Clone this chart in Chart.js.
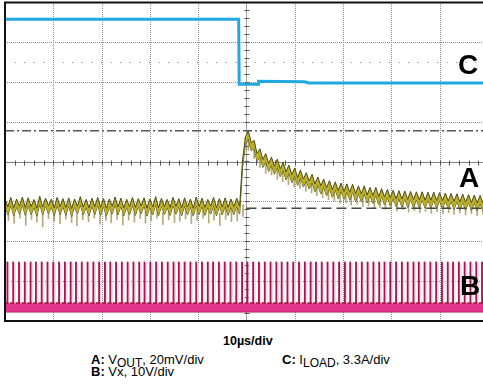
<!DOCTYPE html>
<html>
<head>
<meta charset="utf-8">
<script src="https://cdn.jsdelivr.net/npm/chart.js@4.4.1/dist/chart.umd.min.js"></script>
<style>
  body { margin: 0; background: #fff; font-family: "Liberation Sans", Arial, sans-serif; }
  #wrap { position: relative; width: 483px; height: 392px; overflow: hidden; }
  canvas { position: absolute; left: 0; top: 0; }
  .tag { position: absolute; font-weight: bold; font-size: 28px; line-height: 28px; color: #000; }
  .cap { position: absolute; font-size: 13px; line-height: 15px; color: #000; white-space: nowrap; }
  .cap b { font-weight: bold; }
  .cap sub { font-size: 12px; vertical-align: -3px; line-height: 0; }
</style>
</head>
<body>
<div id="wrap">
  <canvas id="scope" width="483" height="324"></canvas>
  <div class="tag" style="left:458px; top:51px">C</div>
  <div class="tag" style="left:459px; top:164px">A</div>
  <div class="tag" style="left:460px; top:272px">B</div>
  <div class="cap" style="left:223px; top:334px; font-size:12.5px"><b>10µs/div</b></div>
  <div class="cap" style="left:91px; top:352px"><b>A:</b> V<sub>OUT</sub>, 20mV/div</div>
  <div class="cap" style="left:282px; top:352px"><b>C:</b> I<sub>LOAD</sub>, 3.3A/div</div>
  <div class="cap" style="left:91px; top:364px"><b>B:</b> Vx, 10V/div</div>
</div>
<script>
// screen is 10 x 8 divisions, time in µs (10µs/div), levels in divisions from the bottom
const xDivs = [10, 20, 30, 40, 50, 60, 70, 80, 90];
const yDivs = [1, 2, 3, 4, 5, 6, 7];

// trace C: load current step
const cTimes = [0, 48.4, 48.5, 52.4, 52.5, 62, 63, 99];
const cLevels = [7.57, 7.57, 5.94, 5.94, 6.01, 6.0, 5.97, 5.97];

// trace A: output voltage, sampled every half switching cycle
const aTimes = [
  0, 0.6, 1.2, 1.8, 2.4, 3, 3.6, 4.2, 4.8, 5.4,
  6, 6.6, 7.2, 7.8, 8.4, 9, 9.6, 10.2, 10.8, 11.4,
  12, 12.6, 13.2, 13.8, 14.4, 15, 15.6, 16.2, 16.8, 17.4,
  18, 18.6, 19.2, 19.8, 20.4, 21, 21.6, 22.2, 22.8, 23.4,
  24, 24.6, 25.2, 25.8, 26.4, 27, 27.6, 28.2, 28.8, 29.4,
  30, 30.6, 31.2, 31.8, 32.4, 33, 33.6, 34.2, 34.8, 35.4,
  36, 36.6, 37.2, 37.8, 38.4, 39, 39.6, 40.2, 40.8, 41.4,
  42, 42.6, 43.2, 43.8, 44.4, 45, 45.6, 46.2, 46.8, 47.4,
  48, 48.6, 49.2, 49.8, 50.4, 51, 51.6, 52.2, 52.8, 53.4,
  54, 54.6, 55.2, 55.8, 56.4, 57, 57.6, 58.2, 58.8, 59.4,
  60, 60.6, 61.2, 61.8, 62.4, 63, 63.6, 64.2, 64.8, 65.4,
  66, 66.6, 67.2, 67.8, 68.4, 69, 69.6, 70.2, 70.8, 71.4,
  72, 72.6, 73.2, 73.8, 74.4, 75, 75.6, 76.2, 76.8, 77.4,
  78, 78.6, 79.2, 79.8, 80.4, 81, 81.6, 82.2, 82.8, 83.4,
  84, 84.6, 85.2, 85.8, 86.4, 87, 87.6, 88.2, 88.8, 89.4,
  90, 90.6, 91.2, 91.8, 92.4, 93, 93.6, 94.2, 94.8, 95.4,
  96, 96.6, 97.2, 97.8, 98.4, 99, 99.6
];
const aLevels = [
  2.97, 2.76, 3.00, 2.74, 2.96, 2.78, 3.01, 2.75, 2.99, 2.77,
  2.95, 2.73, 3.03, 2.76, 2.98, 2.79, 2.96, 2.74, 3.00, 2.77,
  2.97, 2.75, 2.99, 2.72, 2.96, 2.78, 3.02, 2.76, 2.95, 2.74,
  2.98, 2.77, 3.00, 2.75, 2.97, 2.73, 2.96, 2.78, 3.01, 2.76,
  2.98, 2.74, 2.95, 2.77, 3.00, 2.75, 2.97, 2.79, 2.99, 2.73,
  2.96, 2.76, 3.02, 2.74, 2.98, 2.77, 2.95, 2.75, 3.00, 2.78,
  2.97, 2.74, 2.99, 2.76, 2.96, 2.73, 3.01, 2.77, 2.98, 2.75,
  2.95, 2.78, 3.00, 2.74, 2.97, 2.76, 2.99, 2.75, 2.96, 2.77,
  2.98, 2.78, 3.95, 4.52, 4.67, 4.37, 4.43, 4.10, 4.22, 3.95,
  4.10, 3.85, 4.01, 3.78, 3.96, 3.72, 3.88, 3.64, 3.81, 3.57,
  3.74, 3.50, 3.69, 3.46, 3.62, 3.41, 3.58, 3.34, 3.51, 3.29,
  3.46, 3.24, 3.42, 3.20, 3.39, 3.17, 3.36, 3.15, 3.34, 3.13,
  3.33, 3.10, 3.29, 3.09, 3.29, 3.06, 3.25, 3.05, 3.25, 3.02,
  3.22, 3.01, 3.20, 2.99, 3.18, 2.97, 3.17, 2.96, 3.16, 2.95,
  3.15, 2.95, 3.14, 2.94, 3.14, 2.93, 3.13, 2.93, 3.13, 2.92,
  3.12, 2.92, 3.11, 2.91, 3.10, 2.90, 3.09, 2.89, 3.08, 2.88,
  3.07, 2.87, 3.06, 2.86, 3.05, 2.85, 3.05
];
const aBand = 0.1; // half thickness of the persistence band

// trace A: ringing spikes at each switching edge (lowest level reached)
const aSpikeBottoms = [
  2.52, 2.45, 2.58, 2.40, 2.55, 2.48, 2.36, 2.57, 2.50, 2.44,
  2.56, 2.47, 2.39, 2.54, 2.49, 2.58, 2.43, 2.52, 2.46, 2.55,
  2.41, 2.53, 2.48, 2.57, 2.45, 2.51, 2.58, 2.42, 2.54, 2.47,
  2.50, 2.56, 2.44, 2.52, 2.58, 2.46, 2.53, 2.40, 2.55, 2.49,
  2.51, 2.62, 4.28, 4.08, 3.85, 3.70, 3.66, 3.55, 3.49, 3.42,
  3.36, 3.33, 3.25, 3.21, 3.14, 3.10, 3.04, 3.02, 2.96, 2.97,
  2.91, 2.93, 2.87, 2.89, 2.84, 2.85, 2.80, 2.82, 2.76, 2.79,
  2.73, 2.77, 2.72, 2.75, 2.70, 2.74, 2.69, 2.72, 2.67, 2.71,
  2.66, 2.70, 2.64, 2.68
];
const aSpikeLength = 0.3;

// reference cursors
const peakRef = 4.77;
const startRef = 2.83;
const markerRef = 6.5;

// trace B: switch node pulses
const bPulseTimes = [
  0.5, 1.7, 2.9, 4.1, 5.3, 6.4, 7.6, 8.8, 10.0, 11.2,
  12.4, 13.6, 14.7, 15.9, 17.1, 18.3, 19.5, 20.7, 21.8, 23.0,
  24.2, 25.4, 26.6, 27.8, 28.9, 30.1, 31.3, 32.5, 33.7, 34.9,
  36.0, 37.2, 38.4, 39.6, 40.8, 42.0, 43.1, 44.3, 45.5, 46.7,
  47.9, 49.1, 50.2, 51.4, 52.6, 53.8, 55.0, 56.2, 57.3, 58.5,
  59.7, 60.9, 62.1, 63.3, 64.4, 65.6, 66.8, 68.0, 69.2, 70.4,
  71.5, 72.7, 73.9, 75.1, 76.3, 77.5, 78.6, 79.8, 81.0, 82.2,
  83.4, 84.6, 85.7, 86.9, 88.1, 89.3, 90.5, 91.7, 92.8, 94.0,
  95.2, 96.4, 97.6, 98.8
];
const bPulseTop = 1.48;
const bBaseTimes = [0, 99];
const bBaseHigh = [0.45, 0.45];
const bBaseLow = [0.23, 0.23];

const pts = (xs, ys) => xs.map((x, i) => ({ x, y: ys[i] }));

const scopeGrid = {
  id: 'scopeGrid',
  beforeDatasetsDraw(chart) {
    const { ctx, chartArea: a, scales: { x, y } } = chart;
    const vline = px => { ctx.beginPath(); ctx.moveTo(px, a.top); ctx.lineTo(px, a.bottom); ctx.stroke(); };
    const hline = py => { ctx.beginPath(); ctx.moveTo(a.left, py); ctx.lineTo(a.right, py); ctx.stroke(); };
    ctx.save();
    ctx.lineWidth = 1;
    ctx.strokeStyle = '#8e8e8e';
    ctx.setLineDash([1, 1]);
    xDivs.filter(v => v !== 50).forEach(v => vline(Math.round(x.getPixelForValue(v)) + 0.5));
    yDivs.filter(v => v !== 4).forEach(v => hline(Math.round(y.getPixelForValue(v)) + 0.5));
    ctx.setLineDash([1, 8.6]);
    ctx.strokeStyle = '#777';
    hline(Math.round(y.getPixelForValue(markerRef)) + 0.5);
    // centre cross with minor ticks
    ctx.setLineDash([]);
    ctx.strokeStyle = '#a0a0a0';
    const cx = Math.round(x.getPixelForValue(50)) + 0.5;
    const cy = Math.round(y.getPixelForValue(4)) + 0.5;
    vline(cx);
    ctx.strokeStyle = '#808080';
    hline(cy);
    ctx.strokeStyle = '#555';
    for (let v = 2; v < 99; v += 2) {
      const px = Math.round(x.getPixelForValue(v)) + 0.5;
      ctx.beginPath(); ctx.moveTo(px, cy - 2); ctx.lineTo(px, cy + 3); ctx.stroke();
    }
    for (let v = 0.2; v < 8; v += 0.2) {
      const py = Math.round(y.getPixelForValue(v)) + 0.5;
      ctx.beginPath(); ctx.moveTo(cx - 2, py); ctx.lineTo(cx + 3, py); ctx.stroke();
    }
    ctx.restore();
  },
  afterDatasetsDraw(chart) {
    const { ctx, chartArea: a } = chart;
    ctx.save();
    ctx.strokeStyle = '#111';
    ctx.lineWidth = 2;
    ctx.beginPath();
    ctx.moveTo(a.right + 5, a.top + 0.5);
    ctx.lineTo(a.left, a.top + 0.5);
    ctx.lineTo(a.left, a.bottom);
    ctx.lineTo(a.right + 5, a.bottom);
    ctx.stroke();
    ctx.restore();
  }
};

new Chart(document.getElementById('scope'), {
  type: 'line',
  data: {
    datasets: [
      { label: 'C', data: pts(cTimes, cLevels), borderColor: '#22a8e0', borderWidth: 3, fill: false, order: 0 },
      { label: 'peak ref', data: [{ x: 0, y: peakRef }, { x: 99, y: peakRef }], borderColor: '#555', borderWidth: 1.5,
        borderDash: [9, 3, 2, 3], fill: false, order: 1 },
      { label: 'start ref', data: [{ x: 50, y: startRef }, { x: 99, y: startRef }], borderColor: '#444', borderWidth: 1.5,
        borderDash: [10, 5], fill: false, order: 2 },
      { label: 'A high', data: aTimes.map((t, i) => ({ x: t, y: aLevels[i] + aBand })), borderColor: '#4f4a12',
        borderWidth: 1, backgroundColor: '#b9af2c', fill: '+1', order: 3 },
      { label: 'A low', data: aTimes.map((t, i) => ({ x: t, y: aLevels[i] - aBand })), borderColor: '#4f4a12',
        borderWidth: 1, fill: false, order: 4 },
      { type: 'bar', label: 'A spikes', data: bPulseTimes.map((t, i) => ({ x: t + 0.2, y: [aSpikeBottoms[i], aSpikeBottoms[i] + aSpikeLength] })),
        backgroundColor: 'rgba(150,143,70,0.75)', barThickness: 1, grouped: false, order: 5 },
      { type: 'bar', label: 'B', data: bPulseTimes.map(t => ({ x: t, y: [bBaseHigh[0], bPulseTop] })),
        backgroundColor: '#a9154d', barThickness: 1.2, grouped: false, order: 6 },
      { type: 'bar', label: 'B ghost', data: bPulseTimes.map(t => ({ x: t + 0.4, y: [bBaseHigh[0], bPulseTop - 0.04] })),
        backgroundColor: '#f7dce7', barThickness: 0.8, grouped: false, order: 7 },
      { label: 'B base high', data: pts(bBaseTimes, bBaseHigh), borderColor: '#a8124a', borderWidth: 1.5,
        backgroundColor: '#e0358a', fill: '+1', order: 8 },
      { label: 'B base low', data: pts(bBaseTimes, bBaseLow), borderColor: '#a8124a', borderWidth: 1.5,
        fill: false, order: 9 }
    ]
  },
  options: {
    responsive: false,
    animation: false,
    layout: { padding: { left: 5, top: 2, right: 0, bottom: 3 } },
    plugins: { legend: { display: false }, tooltip: { enabled: false } },
    elements: { point: { radius: 0 }, line: { tension: 0 } },
    scales: {
      x: { type: 'linear', min: 0, max: 99, display: false, offset: false },
      y: { type: 'linear', min: 0, max: 8, display: false }
    }
  },
  plugins: [scopeGrid]
});
</script>
</body>
</html>
